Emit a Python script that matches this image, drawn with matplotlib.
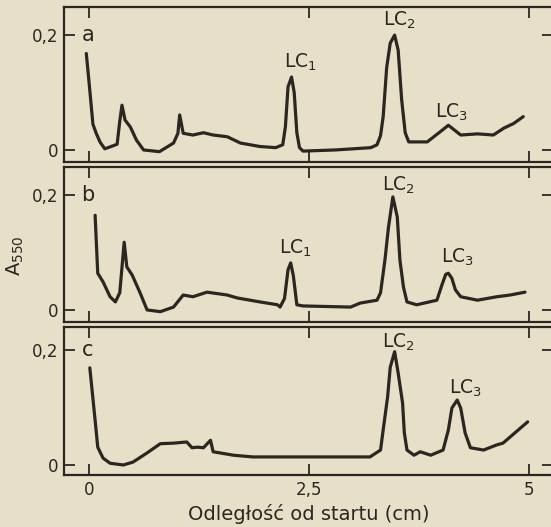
import matplotlib
matplotlib.use("Agg")
import matplotlib.pyplot as plt

# densytogramy: odleglosc od startu (cm) i absorbancja A550
xa = [-0.03, 0.0, 0.02, 0.045, 0.08, 0.125, 0.18, 0.27, 0.32, 0.35, 0.375, 0.41, 0.47,
      0.54, 0.62, 0.8, 0.96, 1.01, 1.03, 1.07, 1.18, 1.3, 1.41, 1.57, 1.72, 1.94, 2.12,
      2.2, 2.23, 2.26, 2.3, 2.33, 2.36, 2.39, 2.43, 2.8, 3.2, 3.27, 3.31, 3.34, 3.38, 3.42,
      3.47, 3.51, 3.55, 3.59, 3.63, 3.84, 3.99, 4.08, 4.22, 4.41, 4.59, 4.71, 4.82, 4.93]
ya = [0.168, 0.12, 0.087, 0.045, 0.03, 0.014, 0.002, 0.007, 0.01, 0.05, 0.078, 0.052, 0.04,
      0.017, 0.0, -0.003, 0.012, 0.029, 0.061, 0.029, 0.026, 0.03, 0.026, 0.023, 0.012, 0.006, 0.004,
      0.009, 0.04, 0.11, 0.127, 0.1, 0.03, 0.004, -0.002, 0.0, 0.004, 0.009, 0.025, 0.058, 0.144, 0.186,
      0.2, 0.174, 0.087, 0.03, 0.014, 0.014, 0.032, 0.043, 0.026, 0.028, 0.026, 0.038, 0.046, 0.058]

xb = [0.07, 0.1, 0.16, 0.24, 0.3, 0.35, 0.4, 0.43, 0.49, 0.58, 0.66, 0.81, 0.96, 1.07,
      1.18, 1.34, 1.57, 1.68, 1.94, 2.14, 2.17, 2.22, 2.26, 2.29, 2.32, 2.36, 2.43, 2.97, 3.08,
      3.27, 3.31, 3.36, 3.4, 3.45, 3.5, 3.53, 3.57, 3.61, 3.72, 3.95, 4.01, 4.05, 4.08, 4.12,
      4.16, 4.22, 4.41, 4.63, 4.78, 4.95]
yb = [0.165, 0.064, 0.049, 0.023, 0.014, 0.03, 0.118, 0.075, 0.061, 0.03, 0.0, -0.003, 0.005, 0.026,
      0.023, 0.031, 0.026, 0.021, 0.014, 0.009, 0.005, 0.02, 0.07, 0.082, 0.06, 0.009, 0.007, 0.005, 0.012,
      0.017, 0.03, 0.087, 0.144, 0.197, 0.162, 0.087, 0.04, 0.014, 0.009, 0.017, 0.045, 0.062, 0.064, 0.055,
      0.035, 0.023, 0.017, 0.023, 0.026, 0.031]

xc = [0.01, 0.07, 0.1, 0.16, 0.24, 0.39, 0.5, 0.66, 0.81, 0.96, 1.11, 1.17, 1.23, 1.3,
      1.38, 1.41, 1.64, 1.86, 2.17, 2.28, 3.19, 3.31, 3.34, 3.39, 3.42, 3.47, 3.51, 3.56, 3.58,
      3.61, 3.69, 3.76, 3.88, 4.02, 4.08, 4.12, 4.18, 4.22, 4.27, 4.33, 4.48, 4.63, 4.7, 4.98]
yc = [0.169, 0.078, 0.031, 0.012, 0.003, 0.0, 0.005, 0.021, 0.037, 0.038, 0.04, 0.03, 0.031, 0.03,
      0.043, 0.023, 0.017, 0.014, 0.014, 0.014, 0.014, 0.026, 0.061, 0.118, 0.17, 0.197, 0.16, 0.108, 0.056,
      0.026, 0.017, 0.023, 0.017, 0.026, 0.061, 0.099, 0.113, 0.099, 0.056, 0.03, 0.026, 0.035, 0.038, 0.075]

# etykiety pikow: (tekst, x, y)
labels_a = [("LC$_1$", 2.4, 0.153), ("LC$_2$", 3.53, 0.226), ("LC$_3$", 4.12, 0.066)]
labels_b = [("LC$_1$", 2.34, 0.108), ("LC$_2$", 3.51, 0.217), ("LC$_3$", 4.18, 0.092)]
labels_c = [("LC$_2$", 3.51, 0.214), ("LC$_3$", 4.27, 0.134)]

paper = "#e7dfc8"
ink = "#2b2621"
plt.rcParams["mathtext.fontset"] = "dejavusans"

fig = plt.figure(figsize=(5.51, 5.27), dpi=100, facecolor=paper)

panels = [
    ("a", xa, ya, labels_a, [0.6926, 0.2941], (-0.021, 0.249)),
    ("b", xb, yb, labels_b, [0.389, 0.294], (-0.021, 0.249)),
    ("c", xc, yc, labels_c, [0.0987, 0.2808], (-0.0174, 0.24)),
]

for i, (name, x, y, labs, (bottom, h), ylim) in enumerate(panels):
    ax = fig.add_axes([0.116, bottom, 0.888, h], facecolor=paper)
    ax.plot(x, y, color=ink, lw=2.3, solid_joinstyle="round", solid_capstyle="round")
    ax.set_xlim(-0.284, 5.27)
    ax.set_ylim(*ylim)
    ax.set_xticks([0, 2.5, 5])
    ax.set_yticks([0, 0.2])
    ax.set_yticklabels(["0", "0,2"])
    ax.tick_params(direction="in", length=8, width=1.3, color=ink, labelcolor=ink,
                   labelsize=12, top=True, right=True, pad=4)
    if i < 2:
        ax.set_xticklabels([])
    else:
        ax.set_xticklabels(["0", "2,5", "5"])
        ax.set_xlabel("Odległość od startu (cm)", fontsize=14, color=ink, labelpad=4)
    for s in ax.spines.values():
        s.set_color(ink)
        s.set_linewidth(1.6)
    ax.text(-0.01, 0.2, name, fontsize=15, color=ink, ha="center", va="center")
    for t, lx, ly in labs:
        ax.text(lx, ly, t, fontsize=13.5, color=ink, ha="center", va="center")
    if i == 1:
        ax.set_ylabel("A$_{550}$", fontsize=14, color=ink)
        ax.yaxis.set_label_coords(-0.078, 0.43)

fig.savefig("out.png", dpi=100, facecolor=paper)
